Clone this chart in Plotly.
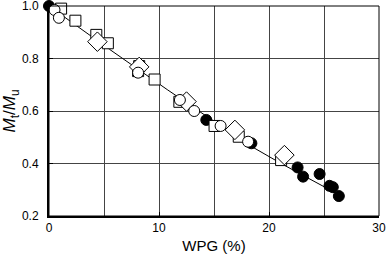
import plotly.graph_objects as go

# Data
filled_x = [0.0, 14.3, 18.4, 22.6, 23.1, 24.6, 25.5, 25.8, 26.35]
filled_y = [1.0, 0.566, 0.477, 0.385, 0.35, 0.36, 0.315, 0.31, 0.276]

open_x = [0.5, 0.9, 8.1, 11.9, 13.2, 15.6, 18.1]
open_y = [0.985, 0.955, 0.746, 0.642, 0.600, 0.543, 0.483]

square_x = [1.1, 2.4, 4.3, 5.35, 8.2, 8.1, 9.6, 11.85, 15.05, 17.25, 21.1]
square_y = [0.99, 0.944, 0.89, 0.858, 0.771, 0.752, 0.72, 0.635, 0.543, 0.502, 0.413]

diamond_x = [4.4, 8.2, 12.5, 16.9, 21.4]
diamond_y = [0.864, 0.768, 0.636, 0.528, 0.432]

fit_x = [0.0, 5.5, 10.8, 15.0, 18.2, 21.1, 26.4]
fit_y = [1.0, 0.835, 0.68, 0.56, 0.47, 0.40, 0.28]

x_tickvals = [0, 10, 20, 30]
y_tickvals = [0.2, 0.4, 0.6, 0.8, 1.0]

fig = go.Figure()
fig.add_trace(go.Scatter(x=fit_x, y=fit_y, mode="lines",
                         line=dict(color="black", width=1), showlegend=False))
fig.add_trace(go.Scatter(x=filled_x, y=filled_y, mode="markers", cliponaxis=False,
                         marker=dict(symbol="circle", size=11, color="black",
                                     line=dict(color="black", width=1)), showlegend=False))
fig.add_trace(go.Scatter(x=square_x, y=square_y, mode="markers", cliponaxis=False,
                         marker=dict(symbol="square", size=11, color="white",
                                     line=dict(color="black", width=1)), showlegend=False))
fig.add_trace(go.Scatter(x=diamond_x, y=diamond_y, mode="markers", cliponaxis=False,
                         marker=dict(symbol="diamond", size=15, color="white",
                                     line=dict(color="black", width=1)), showlegend=False))
fig.add_trace(go.Scatter(x=open_x, y=open_y, mode="markers", cliponaxis=False,
                         marker=dict(symbol="circle", size=11, color="white",
                                     line=dict(color="black", width=1)), showlegend=False))

fig.update_layout(
    width=387, height=256,
    margin=dict(l=49, r=8, t=6, b=40),
    paper_bgcolor="white", plot_bgcolor="white",
    font=dict(family="Liberation Sans, Arial, sans-serif", color="black", size=12),
    xaxis=dict(range=[0, 30], tickvals=x_tickvals, ticktext=[str(v) for v in x_tickvals],
               showgrid=True, gridcolor="#444444", gridwidth=1,
               minor=dict(dtick=5, showgrid=True, gridcolor="#444444", gridwidth=1),
               showline=True, linecolor="black", linewidth=2, mirror=False,
               ticks="inside", ticklen=4, tickcolor="black",
               zeroline=False, automargin=False, ticklabeloverflow="allow",
               title=dict(text="WPG (%)", font=dict(size=15), standoff=6)),
    yaxis=dict(range=[0.2, 1.0], tickvals=y_tickvals,
               ticktext=["%.1f" % v for v in y_tickvals],
               showgrid=True, gridcolor="#444444", gridwidth=1,
               showline=True, linecolor="black", linewidth=2, mirror=False,
               ticks="inside", ticklen=4, tickcolor="black", ticklabelstandoff=6,
               zeroline=False, automargin=False, ticklabeloverflow="allow",
               title=dict(text="<i>M</i><sub>t</sub>/<i>M</i><sub>u</sub>",
                          font=dict(size=17), standoff=2)),
    shapes=[dict(type="rect", xref="paper", yref="paper", x0=0, y0=0, x1=1, y1=1,
                 line=dict(color="black", width=1), layer="above")],
)

fig.write_html("out.html", config={"displayModeBar": False},
               post_script="document.body.style.margin='0px';document.body.style.padding='0px';")
